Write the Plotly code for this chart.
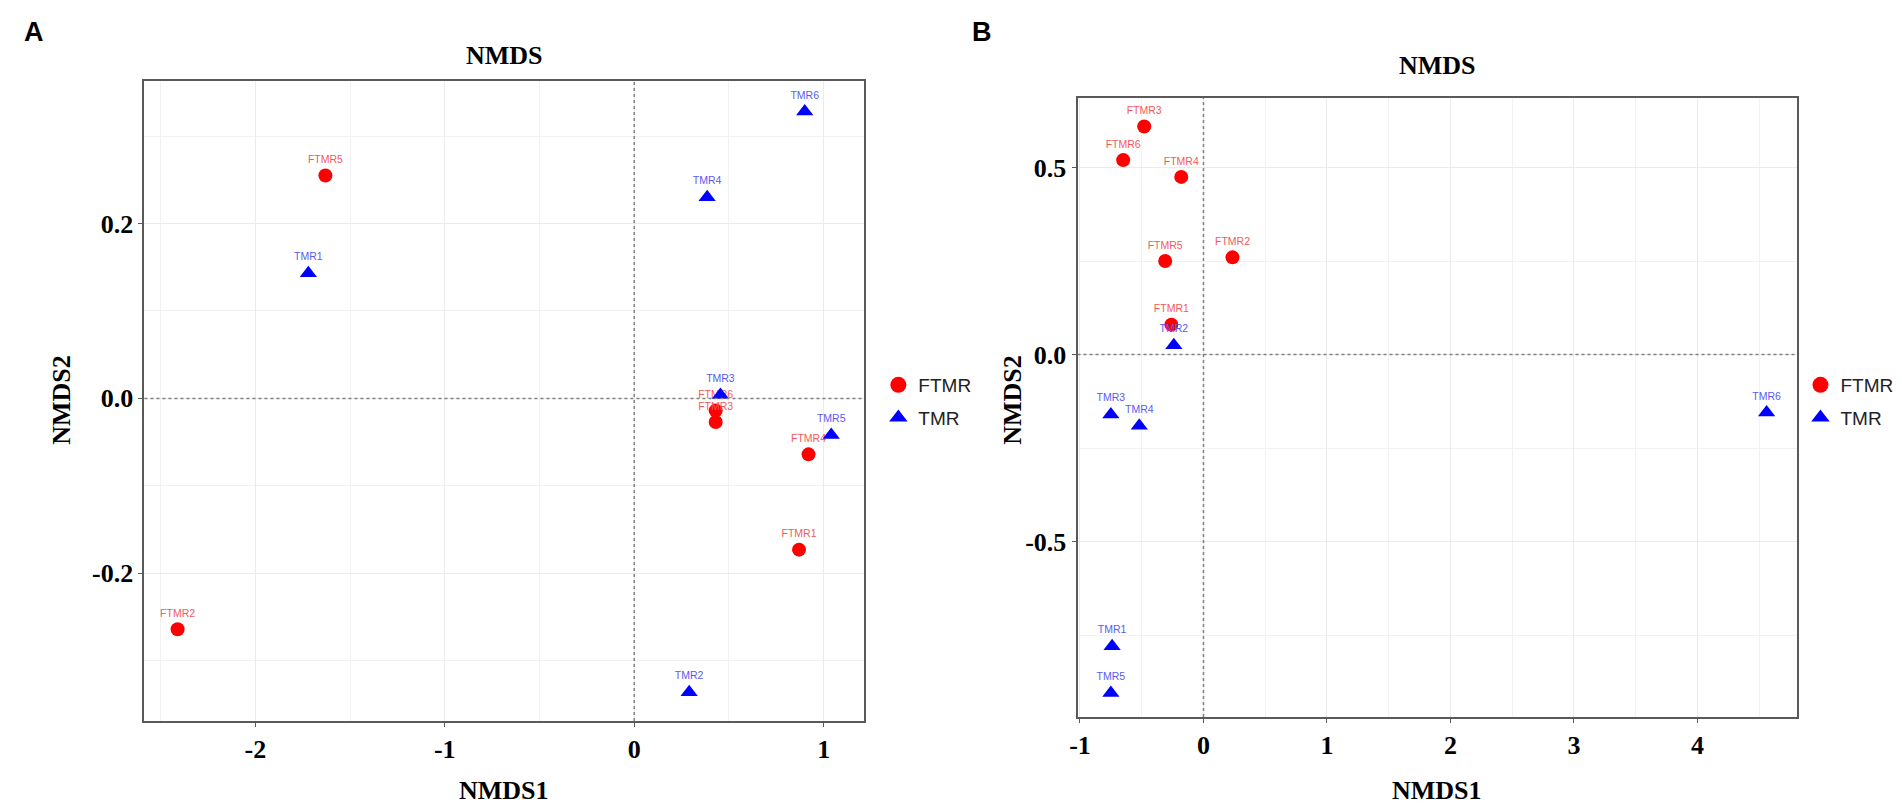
import plotly.graph_objects as go

# --- panel A ---
a_ftmr_names = ["FTMR1", "FTMR2", "FTMR3", "FTMR4", "FTMR5", "FTMR6"]
a_ftmr_x = [0.87, -2.41, 0.43, 0.92, -1.63, 0.43]
a_ftmr_y = [-0.173, -0.264, -0.027, -0.064, 0.255, -0.014]
a_tmr_names = ["TMR1", "TMR2", "TMR3", "TMR4", "TMR5", "TMR6"]
a_tmr_x = [-1.72, 0.29, 0.455, 0.385, 1.04, 0.90]
a_tmr_y = [0.143, -0.336, 0.004, 0.230, -0.042, 0.328]

# --- panel B ---
b_ftmr_names = ["FTMR1", "FTMR2", "FTMR3", "FTMR4", "FTMR5", "FTMR6"]
b_ftmr_x = [-0.26, 0.235, -0.48, -0.18, -0.31, -0.65]
b_ftmr_y = [0.08, 0.26, 0.61, 0.475, 0.25, 0.52]
b_tmr_names = ["TMR1", "TMR2", "TMR3", "TMR4", "TMR5", "TMR6"]
b_tmr_x = [-0.74, -0.24, -0.75, -0.52, -0.75, 4.56]
b_tmr_y = [-0.78, 0.025, -0.16, -0.19, -0.905, -0.155]

groups = ["FTMR", "TMR"]

# tick labels (hyphen minus like the original)
a_xticks = [-2, -1, 0, 1]
a_xtext = ["-2", "-1", "0", "1"]
a_yticks = [-0.2, 0.0, 0.2]
a_ytext = ["-0.2", "0.0", "0.2"]
b_xticks = [-1, 0, 1, 2, 3, 4]
b_xtext = ["-1", "0", "1", "2", "3", "4"]
b_yticks = [-0.5, 0.0, 0.5]
b_ytext = ["-0.5", "0.0", "0.5"]
ref_level = 0

W, H = 1902, 805
serif = dict(family="Liberation Serif", size=26, color="black", weight="bold")
red, blue = "#FF0000", "#0000FF"
red_lbl, blue_lbl = "#F25A5A", "#5A5AF2"
lbl_font = "Liberation Sans"

fig = go.Figure()


def add_panel(xa, ya, fx, fy, fn, tx, ty, tn, leg):
    fig.add_trace(go.Scatter(
        x=fx, y=fy, text=fn, mode="markers+text", name=groups[0], showlegend=False,
        marker=dict(symbol="circle", size=14, color=red),
        textposition="top center", textfont=dict(family=lbl_font, size=10.5, color=red_lbl),
        xaxis=xa, yaxis=ya, hoverinfo="x+y+text"))
    fig.add_trace(go.Scatter(
        x=tx, y=ty, text=tn, mode="markers+text", name=groups[1], showlegend=False,
        marker=dict(symbol="triangle-up", size=15, color=blue),
        textposition="top center", textfont=dict(family=lbl_font, size=10.5, color=blue_lbl),
        xaxis=xa, yaxis=ya, hoverinfo="x+y+text"))
    # legend entries (bigger symbols, like the original key)
    for g, sym, col in [(groups[0], "circle", red), (groups[1], "triangle-up", blue)]:
        fig.add_trace(go.Scatter(
            x=[None], y=[None], mode="markers", name=g, legendgroup=g + leg, legend=leg,
            marker=dict(symbol=sym, size=16, color=col), xaxis=xa, yaxis=ya))


add_panel("x", "y", a_ftmr_x, a_ftmr_y, a_ftmr_names, a_tmr_x, a_tmr_y, a_tmr_names, "legend")
add_panel("x2", "y2", b_ftmr_x, b_ftmr_y, b_ftmr_names, b_tmr_x, b_tmr_y, b_tmr_names, "legend2")

# dotted zero lines
for xr, yr in [("x", "y"), ("x2", "y2")]:
    fig.add_shape(type="line", xref=xr, yref=yr + " domain", x0=ref_level, x1=ref_level, y0=0, y1=1,
                  line=dict(color="#808080", width=1.5, dash="dot"))
    fig.add_shape(type="line", xref=xr + " domain", yref=yr, x0=0, x1=1, y0=ref_level, y1=ref_level,
                  line=dict(color="#808080", width=1.5, dash="dot"))

axis_common = dict(showline=True, mirror=True, linecolor="#5a5a5a", linewidth=2,
                   ticks="outside", ticklen=4, tickcolor="#5a5a5a", tickfont=serif,
                   showgrid=True, gridcolor="#EBEBEB", gridwidth=1, zeroline=False)
leg_common = dict(xanchor="left", yanchor="top", bgcolor="rgba(0,0,0,0)", tracegroupgap=5,
                  font=dict(family="Liberation Sans", size=19, color="#222"), itemsizing="trace")

fig.update_layout(
    width=W, height=H, margin=dict(l=0, r=0, t=0, b=0),
    paper_bgcolor="white", plot_bgcolor="white",
    xaxis=dict(domain=[129 / W, 852 / W], range=[-2.585, 1.215], tickvals=a_xticks, ticktext=a_xtext,
               minor=dict(dtick=0.5, showgrid=True, gridcolor="#F2F2F2"), anchor="y", **axis_common),
    yaxis=dict(domain=[1 - 713 / H, 1 - 73 / H], range=[-0.369, 0.363], tickvals=a_yticks, ticktext=a_ytext,
               minor=dict(dtick=0.1, showgrid=True, gridcolor="#F2F2F2"), anchor="x", **axis_common),
    xaxis2=dict(domain=[1066 / W, 1789 / W], range=[-1.02, 4.81], tickvals=b_xticks, ticktext=b_xtext,
                minor=dict(dtick=0.5, showgrid=True, gridcolor="#F2F2F2"), anchor="y2", **axis_common),
    yaxis2=dict(domain=[1 - 709 / H, 1 - 90 / H], range=[-0.969, 0.686], tickvals=b_yticks, ticktext=b_ytext,
                minor=dict(dtick=0.25, showgrid=True, gridcolor="#F2F2F2"), anchor="x2", **axis_common),
    legend=dict(x=866 / W, y=1 - 358 / H, **leg_common),
    legend2=dict(x=1792 / W, y=1 - 358 / H, **leg_common),
)

for txt, xp in [("A", 6), ("B", 958)]:
    fig.add_annotation(text=txt, xref="paper", yref="paper", x=xp / W, y=1 - 24 / H,
                       xanchor="left", yanchor="middle", showarrow=False,
                       font=dict(family="Liberation Sans", size=27, color="black", weight="bold"))

titles = [
    dict(text="NMDS", x=(129 + 852) / 2 / W, y=1 - 47 / H),
    dict(text="NMDS", x=(1066 + 1789) / 2 / W, y=1 - 58 / H),
    dict(text="NMDS1", x=(129 + 852) / 2 / W, y=1 - 782 / H),
    dict(text="NMDS1", x=(1066 + 1789) / 2 / W, y=1 - 782 / H),
]
for t in titles:
    fig.add_annotation(xref="paper", yref="paper", xanchor="center", yanchor="middle", showarrow=False,
                       font=serif, **t)
for xpos, ypos in [(45, 392), (1000, 392)]:
    fig.add_annotation(text="NMDS2", xref="paper", yref="paper", x=xpos / W, y=1 - ypos / H,
                       xanchor="center", yanchor="middle", showarrow=False, textangle=-90, font=serif)

fig.write_html("out.html")
